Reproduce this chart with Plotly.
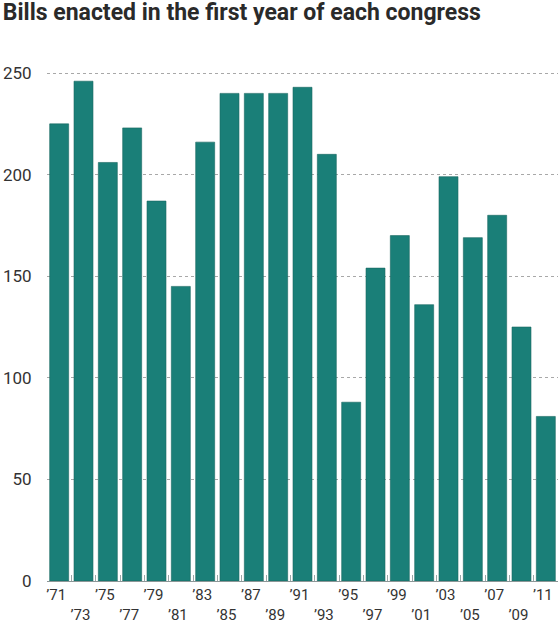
import plotly.graph_objects as go

# first year of each congress and bills enacted
years = ["’71", "’73", "’75", "’77", "’79", "’81", "’83", "’85", "’87", "’89", "’91",
         "’93", "’95", "’97", "’99", "’01", "’03", "’05", "’07", "’09", "’11"]
bills = [225, 246, 206, 223, 187, 145, 216, 240, 240, 240, 243,
         210, 88, 154, 170, 136, 199, 169, 180, 125, 81]

y_ticks = [0, 50, 100, 150, 200, 250]

# stagger the tick labels: every second one drops a line
tick_text = [y if i % 2 == 0 else "<br>" + y for i, y in enumerate(years)]

fig = go.Figure()
fig.add_trace(go.Bar(
    x=years,
    y=bills,
    marker=dict(color="#1a7f78", line=dict(color="#17665f", width=0.6)),
    hoverinfo="x+y",
))

fig.update_layout(
    width=560,
    height=625,
    margin=dict(l=47, r=2, t=69, b=44, autoexpand=False),
    plot_bgcolor="white",
    paper_bgcolor="white",
    bargap=0.22,
    showlegend=False,
    font=dict(family="Roboto, Arial", size=17, color="#333333"),
    title=dict(
        text="<b>Bills enacted in the first year of each congress</b>",
        font=dict(family="Roboto, Arial", size=23, color="#2a2a2a"),
        xref="container", x=0.005, xanchor="left",
        yref="container", y=0.994, yanchor="top",
        pad=dict(t=0),
    ),
)

fig.update_xaxes(
    tickmode="array",
    tickvals=years,
    ticktext=tick_text,
    tickangle=0,
    tickfont=dict(size=15),
    automargin=False,
    tickson="boundaries",
    ticks="inside",
    ticklen=6,
    tickcolor="#9aa6a6",
    showline=True,
    linecolor="#8c9797",
    linewidth=1,
    showgrid=False,
    ticklabelshift=-3,
)

fig.update_yaxes(
    range=[0, 252],
    tickvals=y_ticks,
    automargin=False,
    showgrid=True,
    gridcolor="#a8a8a8",
    griddash="dot",
    gridwidth=1,
    zeroline=False,
    ticks="outside",
    ticklen=11,
    tickcolor="rgba(0,0,0,0)",
)

# drop the default page margin so the figure sits at the window corner
fig.write_html(
    "out.html",
    config={"displayModeBar": False},
    post_script="document.body.style.margin = '0';",
)
